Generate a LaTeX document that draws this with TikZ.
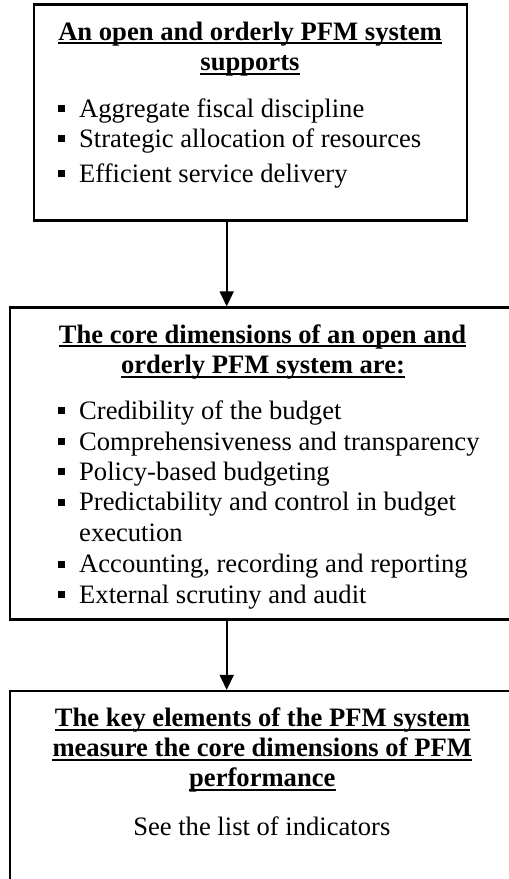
\documentclass[tikz,border=0pt]{standalone}
\usepackage{fontspec}
\setmainfont{Liberation Serif}
\usetikzlibrary{arrows.meta}
\begin{document}
\begin{tikzpicture}[x=1pt,y=-1pt,
  box/.style={draw, line width=2.2pt, inner sep=0pt},
  txt/.style={inner sep=0pt, anchor=base west, font=\fontsize{26.6}{30}\selectfont},
  ttl/.style={inner sep=0pt, anchor=base, font=\fontsize{26.6}{30}\selectfont\bfseries},
  bul/.style={fill, minimum size=7pt, inner sep=0pt},
  uline/.style={line width=2.2pt},
  conn/.style={line width=1.6pt, -{Triangle[width=14pt,length=15pt]}}]
\clip (0,0) rectangle (509,879);
\fill[white] (0,0) rectangle (509,879);
% boxes
\node[box, minimum width=432.7pt, minimum height=216pt] (b1) at (250.3,112.5) {};
\node[box, minimum width=505pt, minimum height=312pt] (b2) at (262.5,463.5) {};
\node[box, minimum width=505pt, minimum height=220pt] (b3) at (262.5,801) {};
% connectors
\coordinate (ax) at (226.7,0);
\draw[conn] (ax |- b1.south) -- (ax |- b2.north);
\draw[conn] (ax |- b2.south) -- (ax |- b3.north);
% box 1
\node[ttl] (t11) at (250,40) {An open and orderly PFM system};
\node[ttl] (t12) at (250,70.5) {supports};
\foreach \n in {t11,t12}
  \draw[uline] ([yshift=-3.3pt]\n.base west) -- ([yshift=-3.3pt]\n.base east);
\node[txt] (i11) at (79,117.5) {Aggregate fiscal discipline};
\node[txt] (i12) at (79,147.5) {Strategic allocation of resources};
\node[txt] (i13) at (79,182) {Efficient service delivery};
\foreach \y in {117.5,147.5,182}
  \node[bul] at (61.3,\y-8.7) {};
% box 2
\node[ttl] (t21) at (262.5,343) {The core dimensions of an open and};
\node[ttl] (t22) at (263,373.3) {orderly PFM system are:};
\foreach \n in {t21,t22}
  \draw[uline] ([yshift=-3.3pt]\n.base west) -- ([yshift=-3.3pt]\n.base east);
\node[txt] (i21) at (79,419.3) {Credibility of the budget};
\node[txt] (i22) at (79,450) {Comprehensiveness and transparency};
\node[txt] (i23) at (79,480.3) {Policy-based budgeting};
\node[txt] (i24) at (79,510.7) {Predictability and control in budget};
\node[txt] (i24b) at (79,541.7) {execution};
\node[txt] (i25) at (79,572.7) {Accounting, recording and reporting};
\node[txt] (i26) at (79,603.3) {External scrutiny and audit};
\foreach \y in {419.3,450,480.3,510.7,572.7,603.3}
  \node[bul] at (61.3,\y-8.7) {};
% box 3
\node[ttl] (t31) at (262.5,726.5) {The key elements of the PFM system};
\node[ttl] (t32) at (262.2,756.5) {measure the core dimensions of PFM};
\node[ttl] (t33) at (262.3,786.5) {performance};
\foreach \n in {t31,t32,t33}
  \draw[uline] ([yshift=-3.3pt]\n.base west) -- ([yshift=-3.3pt]\n.base east);
\node[inner sep=0pt, anchor=base, font=\fontsize{26.6}{30}\selectfont] (s3) at (261.8,835) {See the list of indicators};
\end{tikzpicture}
\end{document}
